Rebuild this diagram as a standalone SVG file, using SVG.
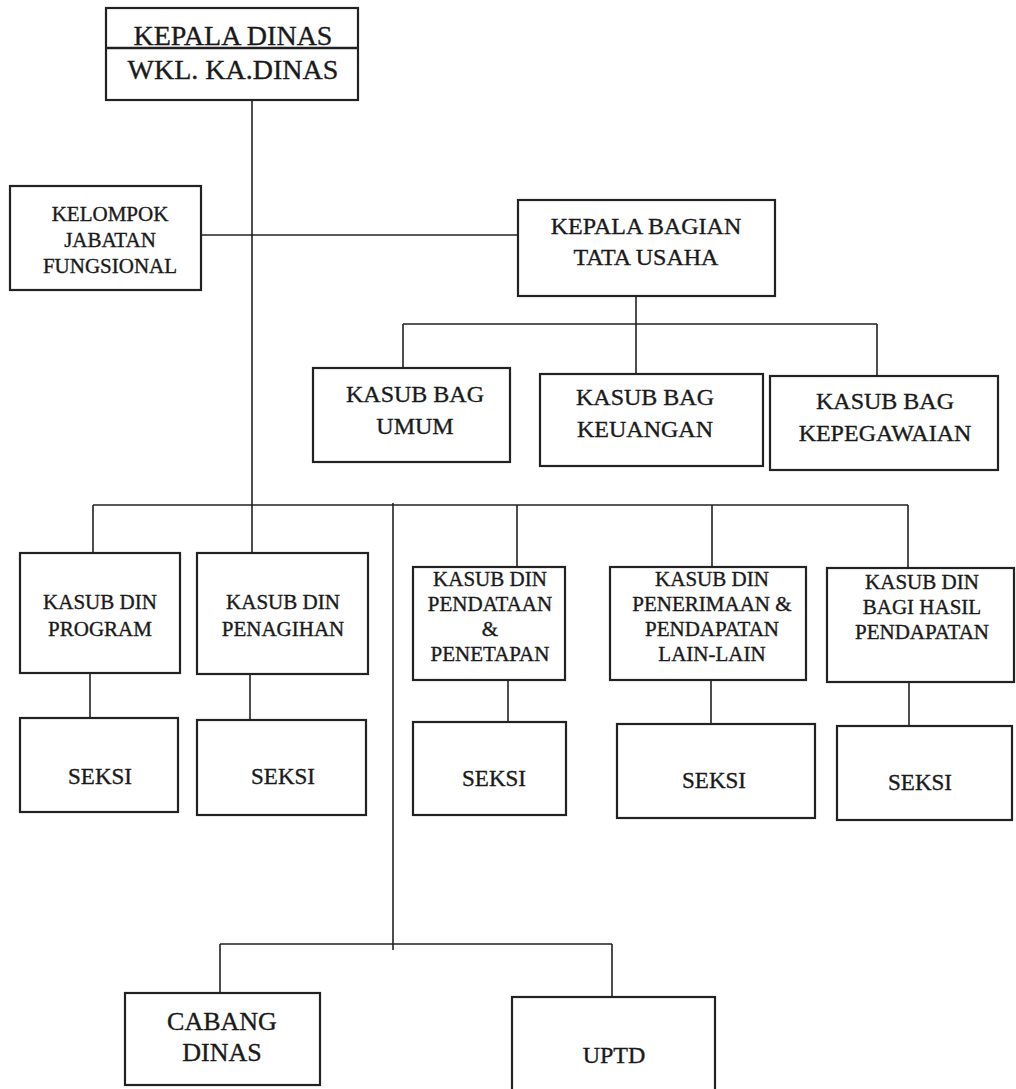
<svg xmlns="http://www.w3.org/2000/svg" width="1016" height="1089" viewBox="0 0 1016 1089">
<style>
.box{fill:#fff;stroke:#222;stroke-width:2.2}
.ln{fill:none;stroke:#222;stroke-width:1.6}
text{font-family:"Liberation Serif","Times New Roman",serif;fill:#1a1a1a;stroke:#1a1a1a;stroke-width:0.35;text-anchor:middle}
.t28{font-size:28px}
.t27{font-size:27px}
.t26{font-size:26px}
.t24{font-size:24px}
.t23{font-size:23px}
.t21{font-size:21px}
</style>
<rect width="1016" height="1089" fill="#fff"/>
<g id="connectors">
<path class="ln" d="M252 100V553"/>
<path class="ln" d="M201 235H518"/>
<path class="ln" d="M636 296V324M403 324H877M403 324V370M636 324V376M877 324V376"/>
<path class="ln" d="M93 505H908M93 505V553M517 505V567M712 505V567M908 505V568"/>
<path class="ln" d="M393 503V950"/>
<path class="ln" d="M90 673V718M250 674V720M508 680V722M711 680V724M909 682V726"/>
<path class="ln" d="M220 944H612M220 944V993M612 944V997"/>
</g>
<g id="kepala-dinas">
<rect class="box" x="106" y="8" width="252" height="92"/>
<path class="ln" d="M106 48H358" style="stroke-width:2.4"/>
<text class="t28" x="233" y="45">KEPALA DINAS</text>
<text class="t28" x="233" y="79">WKL. KA.DINAS</text>
</g>
<g id="kelompok">
<rect class="box" x="10" y="186" width="191" height="104"/>
<text class="t21" x="110" y="221">KELOMPOK</text>
<text class="t21" x="110" y="247">JABATAN</text>
<text class="t21" x="110" y="273">FUNGSIONAL</text>
</g>
<g id="kepala-bagian">
<rect class="box" x="518" y="200" width="257" height="96"/>
<text class="t24" x="646" y="234">KEPALA BAGIAN</text>
<text class="t24" x="646" y="265">TATA USAHA</text>
</g>
<g id="kasub-bag-umum">
<rect class="box" x="313" y="368" width="197" height="94"/>
<text class="t24" x="415" y="402">KASUB BAG</text>
<text class="t24" x="415" y="434">UMUM</text>
</g>
<g id="kasub-bag-keuangan">
<rect class="box" x="540" y="374" width="223" height="92"/>
<text class="t24" x="645" y="405">KASUB BAG</text>
<text class="t24" x="645" y="437">KEUANGAN</text>
</g>
<g id="kasub-bag-kepegawaian">
<rect class="box" x="770" y="376" width="228" height="94"/>
<text class="t24" x="885" y="409">KASUB BAG</text>
<text class="t24" x="885" y="441">KEPEGAWAIAN</text>
</g>
<g id="kasub-din-program">
<rect class="box" x="20" y="553" width="160" height="120"/>
<text class="t21" x="100" y="609">KASUB DIN</text>
<text class="t21" x="100" y="636">PROGRAM</text>
</g>
<g id="kasub-din-penagihan">
<rect class="box" x="197" y="553" width="171" height="121"/>
<text class="t21" x="283" y="609">KASUB DIN</text>
<text class="t21" x="283" y="636">PENAGIHAN</text>
</g>
<g id="kasub-din-pendataan">
<rect class="box" x="413" y="567" width="152" height="113"/>
<text class="t21" x="490" y="586">KASUB DIN</text>
<text class="t21" x="490" y="611">PENDATAAN</text>
<text class="t21" x="490" y="636">&amp;</text>
<text class="t21" x="490" y="661">PENETAPAN</text>
</g>
<g id="kasub-din-penerimaan">
<rect class="box" x="610" y="567" width="196" height="113"/>
<text class="t21" x="712" y="586">KASUB DIN</text>
<text class="t21" x="712" y="611">PENERIMAAN &amp;</text>
<text class="t21" x="712" y="636">PENDAPATAN</text>
<text class="t21" x="712" y="661">LAIN-LAIN</text>
</g>
<g id="kasub-din-bagi-hasil">
<rect class="box" x="827" y="568" width="187" height="114"/>
<text class="t21" x="922" y="589">KASUB DIN</text>
<text class="t21" x="922" y="614">BAGI HASIL</text>
<text class="t21" x="922" y="639">PENDAPATAN</text>
</g>
<g id="seksi-1">
<rect class="box" x="20" y="718" width="158" height="94"/>
<text class="t23" x="100" y="784">SEKSI</text>
</g>
<g id="seksi-2">
<rect class="box" x="197" y="720" width="169" height="95"/>
<text class="t23" x="283" y="784">SEKSI</text>
</g>
<g id="seksi-3">
<rect class="box" x="413" y="722" width="153" height="93"/>
<text class="t23" x="494" y="786">SEKSI</text>
</g>
<g id="seksi-4">
<rect class="box" x="617" y="724" width="198" height="94"/>
<text class="t23" x="714" y="788">SEKSI</text>
</g>
<g id="seksi-5">
<rect class="box" x="837" y="726" width="175" height="94"/>
<text class="t23" x="920" y="790">SEKSI</text>
</g>
<g id="cabang-dinas">
<rect class="box" x="125" y="993" width="195" height="92"/>
<text class="t26" x="222" y="1030">CABANG</text>
<text class="t26" x="222" y="1061">DINAS</text>
</g>
<g id="uptd">
<rect class="box" x="512" y="997" width="203" height="95"/>
<text class="t24" x="614" y="1063">UPTD</text>
</g>
</svg>
